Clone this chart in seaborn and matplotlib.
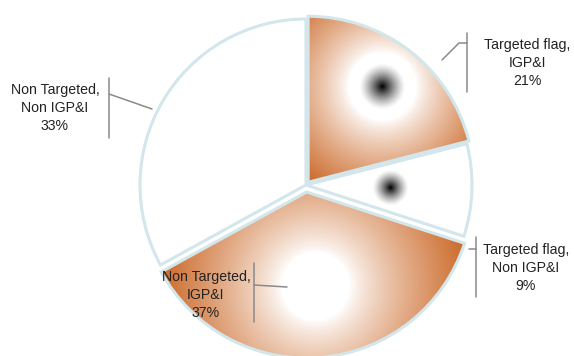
import numpy as np
import matplotlib
matplotlib.use("Agg")
import matplotlib.pyplot as plt
import seaborn as sns

# chart data
categories = ["Targeted flag,\nIGP&I", "Targeted flag,\nNon IGP&I",
              "Non Targeted,\nIGP&I", "Non Targeted,\nNon IGP&I"]
shares = [21, 9, 37, 33]

W, H = 574, 356

sns.set_theme(style="white")
plt.rcParams["font.family"] = ["Liberation Sans", "DejaVu Sans"]

ORANGE = np.array([0.80, 0.42, 0.17])
EDGE = "#d2e6ec"
LEADER = "#8a8a8a"


def px(x, y):
    # pixel position (from top-left) -> data coords
    return x, H - y


fig = plt.figure(figsize=(W / 100, H / 100), dpi=100)
ax = fig.add_axes([0, 0, 1, 1])

cx, cy = px(306, 185)
R = 166
# explode offsets are in data units (pixels here)
wedges, _ = ax.pie(shares, startangle=90, counterclock=False,
                   center=(cx, cy), radius=R, explode=[3.5, 0, 7, 0],
                   colors=["none"] * 4,
                   wedgeprops=dict(edgecolor=EDGE, linewidth=2.2))
for w in wedges:
    w.set_zorder(3)

yy, xx = np.mgrid[0:H, 0:W] + 0.5


def wedge_point(w, frac):
    mid = np.deg2rad((w.theta1 + w.theta2) / 2)
    x0, y0 = w.center
    return x0 + frac * w.r * np.cos(mid), y0 + frac * w.r * np.sin(mid)


def fill(w, frac, inner, span, dot=0, power=0.8):
    gx, gy = wedge_point(w, frac)
    d = np.hypot(xx - gx, yy - gy)
    t = np.clip((d - inner) / span, 0, 1) ** power if span else np.zeros_like(d)
    rgb = (1 - t[..., None]) * np.ones(3) + t[..., None] * ORANGE
    if dot:
        dark = np.clip(1 - d / dot, 0, 1) ** 1.3
        rgb = rgb * (1 - dark[..., None])
    img = np.dstack([rgb, np.ones((H, W))])
    im = ax.imshow(img, extent=(0, W, 0, H), origin="lower", zorder=1,
                   interpolation="bilinear")
    im.set_clip_path(w)


fill(wedges[0], 0.73, 34, 85, dot=23)
fill(wedges[1], 0.51, 0, 0, dot=18)
fill(wedges[2], 0.57, 34, 120)

# labels with bracket leaders
layout = [
    dict(text=(527, 63), bar=(467, 33, 92), line=[(467, 43), (459, 43), (442, 60)]),
    dict(text=(526, 268), bar=(476, 237, 297), line=[(476, 249), (469, 249)]),
    dict(text=(206, 295), bar=(254, 263, 322), line=[(254, 285), (287, 287)]),
    dict(text=(55, 108), bar=(109, 78, 138), line=[(109, 94), (152, 109)]),
]
for cat, val, lay in zip(categories, shares, layout):
    tx, ty = px(*lay["text"])
    ax.text(tx, ty, f"{cat}\n{val}%", ha="center", va="center",
            multialignment="center", fontsize=10.2, color="#222222",
            linespacing=1.4, zorder=5)
    bx, b0, b1 = lay["bar"]
    ax.plot([bx, bx], [H - b0, H - b1], color=LEADER, lw=1.1, zorder=4)
    lx, ly = zip(*[px(*p) for p in lay["line"]])
    ax.plot(lx, ly, color=LEADER, lw=1.1, zorder=4)

ax.set_xlim(0, W)
ax.set_ylim(0, H)
ax.set_aspect("equal")
ax.axis("off")

fig.savefig("out.png", dpi=100)
plt.close(fig)
